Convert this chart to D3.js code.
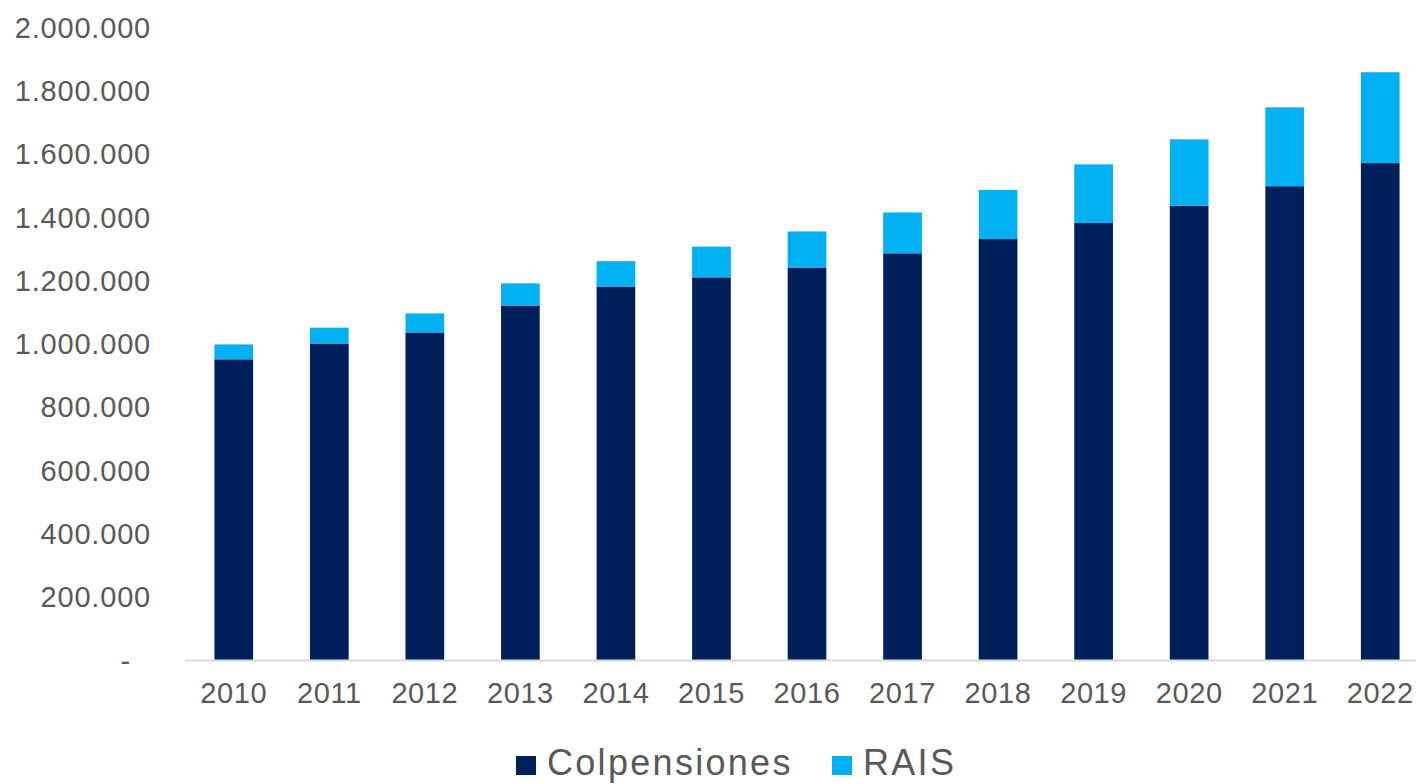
<!DOCTYPE html>
<html>
<head>
<meta charset="utf-8">
<script src="https://cdn.jsdelivr.net/npm/d3@7"></script>
<style>
  body { margin: 0; background: #fff; }
  svg { display: block; font-family: "Liberation Sans", Arial, sans-serif; }
</style>
</head>
<body>
<div class="chart"></div>
<script>
// data
var years = ["2010","2011","2012","2013","2014","2015","2016","2017","2018","2019","2020","2021","2022"];
var colpensiones = [950000, 1000000, 1035000, 1120000, 1180000, 1209000, 1240000, 1285000, 1330000, 1381000, 1435000, 1497000, 1570000];
var rais = [47000, 50000, 60000, 70000, 80000, 97000, 114000, 129000, 155000, 185000, 210000, 249000, 287000];
var yTicks = [0, 200000, 400000, 600000, 800000, 1000000, 1200000, 1400000, 1600000, 1800000, 2000000];
var seriesNames = ["Colpensiones", "RAIS"];
var colors = ["#00205C", "#00B0F0"];

var svgWidth = 1416;
var svgHeight = 784;

var svg = d3.select(".chart")
  .append("svg")
  .attr("width", svgWidth)
  .attr("height", svgHeight);

// scales
var xBandScale = d3.scaleBand()
  .domain(years)
  .range([186, 1428])
  .paddingInner(0.595)
  .paddingOuter(0.2975);

var yLinearScale = d3.scaleLinear()
  .domain([0, 2000000])
  .range([660, 27]);

var fmt = d3.formatLocale({ decimal: ",", thousands: ".", grouping: [3], currency: ["", ""] }).format(",.0f");

// stack data
var table = years.map(function(y, i) {
  return { year: y, Colpensiones: colpensiones[i], RAIS: rais[i] };
});
var stacked = d3.stack().keys(seriesNames)(table);

// bars
svg.append("g")
  .selectAll("g")
  .data(stacked)
  .enter()
  .append("g")
  .attr("fill", (d, i) => colors[i])
  .selectAll("rect")
  .data(d => d)
  .enter()
  .append("rect")
  .attr("x", d => xBandScale(d.data.year))
  .attr("width", xBandScale.bandwidth())
  .attr("y", d => yLinearScale(d[1]))
  .attr("height", d => yLinearScale(d[0]) - yLinearScale(d[1]));

// y axis labels
var yAxis = d3.axisLeft(yLinearScale)
  .tickValues(yTicks)
  .tickSize(0)
  .tickPadding(0)
  .tickFormat(d => d === 0 ? "-" : fmt(d));

var yG = svg.append("g")
  .attr("transform", "translate(151,0)")
  .call(yAxis);
yG.select(".domain").remove();
yG.selectAll("text")
  .attr("fill", "#595959")
  .style("font-size", "29px")
  .style("letter-spacing", "0.8px")
  .attr("dy", "0.35em");
yG.selectAll("text").filter(d => d === 0).attr("dx", "-20");

// x axis
var xAxis = d3.axisBottom(xBandScale).tickSize(0).tickPadding(22);
var xG = svg.append("g")
  .attr("transform", "translate(0,660)")
  .call(xAxis);
xG.select(".domain").remove();
xG.selectAll("text")
  .attr("fill", "#595959")
  .style("font-size", "29px")
  .style("letter-spacing", "0.6px");

svg.append("line")
  .attr("x1", 185)
  .attr("x2", svgWidth)
  .attr("y1", yLinearScale(0) + 0.5)
  .attr("y2", yLinearScale(0) + 0.5)
  .attr("stroke", "#D9D9D9")
  .attr("stroke-width", 2);

// legend
var legendX = [516, 832];
var legend = svg.append("g")
  .selectAll("g")
  .data(seriesNames)
  .enter()
  .append("g")
  .attr("transform", (d, i) => `translate(${legendX[i]}, 756)`);

legend.append("rect")
  .attr("width", 20)
  .attr("height", 19)
  .attr("fill", (d, i) => colors[i]);

legend.append("text")
  .attr("x", 31)
  .attr("y", 19)
  .attr("fill", "#595959")
  .style("font-size", "36px")
  .style("letter-spacing", "2.3px")
  .text(d => d);
</script>
</body>
</html>
